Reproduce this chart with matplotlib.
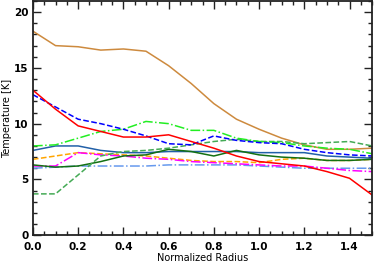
import matplotlib
matplotlib.use("Agg")
import matplotlib.pyplot as plt
from matplotlib.ticker import MultipleLocator, FormatStrFormatter

radius = [0.0, 0.1, 0.2, 0.3, 0.4, 0.5, 0.6, 0.7, 0.8, 0.9, 1.0, 1.1, 1.2, 1.3, 1.4, 1.5]

brown = [18.3, 17.0, 16.9, 16.6, 16.7, 16.5, 15.2, 13.6, 11.8, 10.4, 9.5, 8.7, 8.1, 7.7, 7.7, 7.8]
red = [13.0, 11.3, 9.8, 9.3, 8.8, 8.8, 9.0, 8.4, 7.8, 7.1, 6.6, 6.4, 6.2, 5.7, 5.1, 3.6]
blue_dash = [12.6, 11.5, 10.4, 10.0, 9.5, 8.9, 8.2, 8.1, 8.9, 8.5, 8.3, 8.2, 7.7, 7.4, 7.2, 7.1]
lime_dashdot = [8.0, 8.1, 8.7, 9.3, 9.5, 10.2, 10.0, 9.4, 9.4, 8.7, 8.4, 8.3, 8.0, 7.8, 7.7, 7.3]
steel_solid = [7.6, 8.0, 8.0, 7.6, 7.4, 7.4, 7.5, 7.5, 7.5, 7.5, 7.4, 7.4, 7.4, 7.1, 7.0, 6.9]
darkgreen_solid = [6.3, 6.1, 6.2, 6.6, 7.1, 7.2, 7.7, 7.5, 7.1, 7.6, 7.2, 7.0, 6.9, 6.7, 6.7, 6.8]
green_dash = [3.7, 3.7, 5.4, 7.1, 7.5, 7.6, 7.8, 8.1, 8.4, 8.6, 8.4, 8.4, 8.2, 8.3, 8.4, 8.0]
orange_dash = [6.8, 7.1, 7.4, 7.3, 7.2, 7.1, 6.9, 6.7, 6.6, 6.6, 6.5, 6.8, 6.9, 6.7, 6.7, 6.8]
magenta_dashdot = [6.2, 6.2, 7.4, 7.2, 7.1, 6.9, 6.8, 6.6, 6.5, 6.4, 6.3, 6.2, 6.2, 6.0, 5.8, 5.7]
lightblue_dashdot = [6.0, 6.1, 6.2, 6.2, 6.2, 6.2, 6.3, 6.3, 6.3, 6.3, 6.2, 6.1, 6.0, 6.0, 6.0, 6.0]

series = [
    (brown, "#CD8A3E", "-"),
    (lightblue_dashdot, "#6699EE", "-."),
    (orange_dash, "#FFA500", "--"),
    (magenta_dashdot, "#FF00FF", "-."),
    (steel_solid, "#2260A8", "-"),
    (darkgreen_solid, "#137013", "-"),
    (green_dash, "#44AA55", "--"),
    (lime_dashdot, "#22EE22", "-."),
    (blue_dash, "#0000FF", "--"),
    (red, "#FF0000", "-"),
]

fig = plt.figure(figsize=(3.74, 2.63), dpi=100)
ax = fig.add_axes([0.088, 0.106, 0.907, 0.89])
for vals, col, ls in series:
    ax.plot(radius, vals, color=col, linestyle=ls, linewidth=1.1)

ax.set_xlim(0, 1.5)
ax.set_ylim(0, 21)
ax.xaxis.set_major_locator(MultipleLocator(0.2))
ax.xaxis.set_minor_locator(MultipleLocator(0.05))
ax.yaxis.set_major_locator(MultipleLocator(5))
ax.yaxis.set_minor_locator(MultipleLocator(1))
ax.xaxis.set_major_formatter(FormatStrFormatter("%.1f"))
for s in ax.spines.values():
    s.set_linewidth(1.3)
    s.set_color("#222222")
ax.tick_params(which="both", direction="in", top=True, right=True, labelsize=7.5,
               color="#222222", width=1.0)
ax.tick_params(which="major", length=6)
ax.tick_params(which="minor", length=3)
ax.tick_params(axis="x", pad=5)
ax.tick_params(axis="y", pad=3)
for lbl in ax.get_xticklabels() + ax.get_yticklabels():
    lbl.set_fontweight("bold")
ax.set_xlabel("Normalized Radius", fontsize=7, labelpad=1)
fig.text(0.019, 0.106 + 0.89 / 2, "Temperature [K]", rotation=90,
         ha="center", va="center", fontsize=7)
fig.savefig("out.png", dpi=100)
